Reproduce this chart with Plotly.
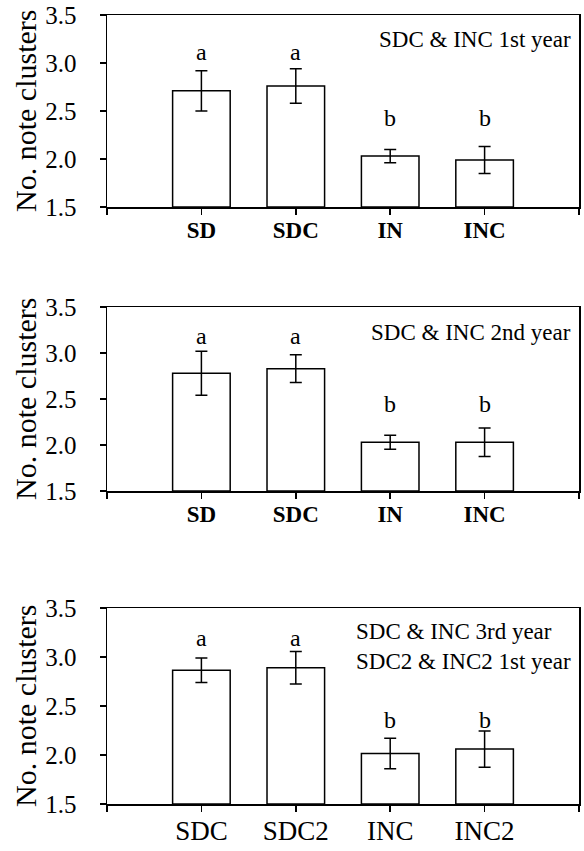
import plotly.graph_objects as go

# ---- data ----
cats_p1 = ["SD", "SDC", "IN", "INC"]
vals_p1 = [2.71, 2.76, 2.03, 1.99]
err_p1 = [0.21, 0.18, 0.07, 0.14]
lett_p1 = ["a", "a", "b", "b"]
lett_y_p1 = [3.11, 3.11, 2.43, 2.43]
note_p1 = "SDC &amp; INC 1st year"

cats_p2 = ["SD", "SDC", "IN", "INC"]
vals_p2 = [2.78, 2.83, 2.03, 2.03]
err_p2 = [0.24, 0.15, 0.075, 0.155]
lett_p2 = ["a", "a", "b", "b"]
lett_y_p2 = [3.18, 3.18, 2.45, 2.45]
note_p2 = "SDC &amp; INC 2nd year"

cats_p3 = ["SDC", "SDC2", "INC", "INC2"]
vals_p3 = [2.865, 2.89, 2.015, 2.06]
err_p3 = [0.125, 0.165, 0.155, 0.185]
lett_p3 = ["a", "a", "b", "b"]
lett_y_p3 = [3.19, 3.19, 2.36, 2.36]
note_p3 = "SDC &amp; INC 3rd year<br>SDC2 &amp; INC2 1st year"

y_ticks = [1.5, 2.0, 2.5, 3.0, 3.5]
y_title = "No. note clusters"

FONT = "Liberation Serif"
W, H = 584, 851

def px_x(x):
    return x / W

def px_y(y):
    return 1 - y / H

panels = [
    dict(cats=cats_p1, vals=vals_p1, err=err_p1, lett=lett_p1, ly=lett_y_p1, note=note_p1, bold=True,
         top=15, bottom=207, note_y=40),
    dict(cats=cats_p2, vals=vals_p2, err=err_p2, lett=lett_p2, ly=lett_y_p2, note=note_p2, bold=True,
         top=307, bottom=491, note_y=332),
    dict(cats=cats_p3, vals=vals_p3, err=err_p3, lett=lett_p3, ly=lett_y_p3, note=note_p3, bold=False,
         top=608, bottom=804, note_y=646),
]

fig = go.Figure()
layout = dict(width=W, height=H, margin=dict(l=0, r=0, t=0, b=0, autoexpand=False),
              paper_bgcolor="white", plot_bgcolor="white", showlegend=False,
              font=dict(family=FONT, color="black"))
annotations = []
xdom = [px_x(107), px_x(579)]

for i, p in enumerate(panels, start=1):
    xa = "x" if i == 1 else f"x{i}"
    ya = "y" if i == 1 else f"y{i}"
    xpos = list(range(1, len(p["cats"]) + 1))
    fig.add_trace(go.Bar(
        x=xpos, y=[v - 1.5 for v in p["vals"]], base=1.5, width=0.61,
        marker=dict(color="white", line=dict(color="black", width=1.5)),
        error_y=dict(type="data", array=p["err"], color="black", thickness=1.5, width=6),
        xaxis=xa, yaxis=ya, hoverinfo="skip"))
    for xv, t, yv in zip(xpos, p["lett"], p["ly"]):
        annotations.append(dict(x=xv, y=yv, xref=xa, yref=ya, text=t, showarrow=False,
                                font=dict(size=24, family=FONT)))
    ydom = [px_y(p["bottom"]), px_y(p["top"])]
    if p["bold"]:
        ticktext = [""] + [f"<b>{c}</b>" for c in p["cats"]] + [""]
        tfs = 23
    else:
        ticktext = [""] + p["cats"] + [""]
        tfs = 27
    layout["xaxis" if i == 1 else f"xaxis{i}"] = dict(
        domain=xdom, anchor=ya, range=[0, 5], tickmode="array", automargin=False,
        tickvals=list(range(0, 6)), ticktext=ticktext, ticks="outside", ticklen=6,
        tickwidth=1.5, tickcolor="black", showline=True, linecolor="black", linewidth=1.5,
        mirror=True, showgrid=False, zeroline=False, fixedrange=True,
        tickfont=dict(size=tfs, family=FONT, color="black"), ticklabelstandoff=-4)
    layout["yaxis" if i == 1 else f"yaxis{i}"] = dict(
        domain=ydom, anchor=xa, range=[1.5, 3.5], tickmode="array", automargin=False,
        tickvals=y_ticks, ticktext=[f"{v:.1f}" for v in y_ticks], ticks="outside", ticklen=6,
        tickwidth=1.5, tickcolor="black", showline=True, linecolor="black", linewidth=1.5,
        mirror=True, showgrid=False, zeroline=False, fixedrange=True,
        tickfont=dict(size=25, family=FONT, color="black"), ticklabelstandoff=18)
    annotations.append(dict(x=px_x(25), y=px_y((p["top"] + p["bottom"]) / 2), xref="paper", yref="paper",
                            text=y_title, textangle=-90, showarrow=False,
                            font=dict(size=30, family=FONT), xanchor="center", yanchor="middle"))
    annotations.append(dict(x=px_x(573), y=px_y(p["note_y"]), xref="paper", yref="paper",
                            text=p["note"], showarrow=False, align="left",
                            xanchor="right", yanchor="middle",
                            font=dict(size=23, family=FONT)))

layout["annotations"] = annotations
fig.update_layout(**layout)
fig.write_html("out.html", config={"displayModeBar": False, "staticPlot": True},
               post_script="document.body.style.margin='0px';")
